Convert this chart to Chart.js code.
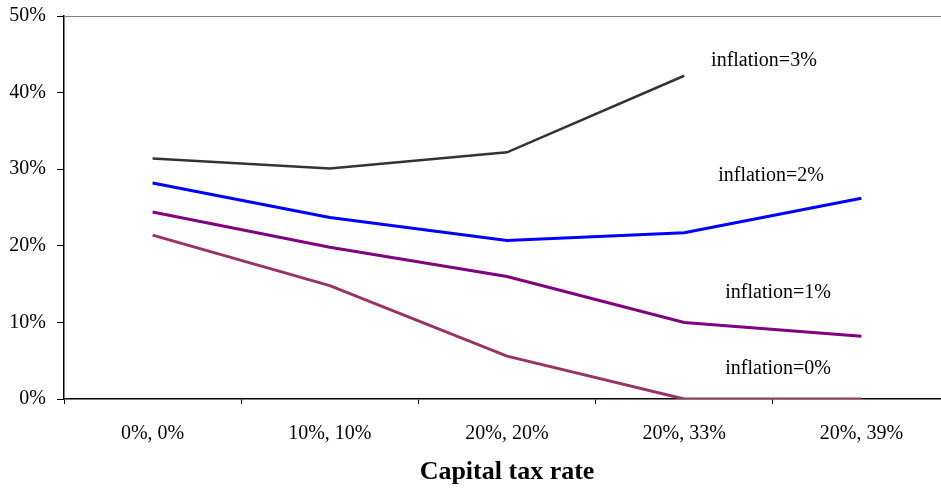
<!DOCTYPE html>
<html>
<head>
<meta charset="utf-8">
<script src="https://cdn.jsdelivr.net/npm/chart.js@4/dist/chart.umd.min.js"></script>
<style>
  html, body { margin: 0; padding: 0; background: #fff; overflow: hidden; }
  #wrap { width: 960px; height: 489px; }
</style>
</head>
<body>
<div id="wrap"><canvas id="c" width="960" height="489"></canvas></div>
<script>
// Capital tax rate combinations (x axis categories)
const categories = ['0%, 0%', '10%, 10%', '20%, 20%', '20%, 33%', '20%, 39%'];

// Series values in percent, one array per inflation level
const inflation3 = [31.4, 30.1, 32.2, 42.2, null];
const inflation2 = [28.2, 23.7, 20.7, 21.7, 26.2];
const inflation1 = [24.4, 19.8, 16.0, 10.0, 8.2];
const inflation0 = [21.4, 14.8, 5.6, 0, 0];

// Y axis range and step
const yTicks = { min: 0, max: 50, step: 10 };

// Series labels placed inside the plot (category position, value)
const seriesNotes = [
  { text: 'inflation=3%', x: 3.45, y: 44.1 },
  { text: 'inflation=2%', x: 3.49, y: 29.2 },
  { text: 'inflation=1%', x: 3.53, y: 13.9 },
  { text: 'inflation=0%', x: 3.53, y: 4.0 }
];

const serif = "'Liberation Serif', 'DejaVu Serif', serif";

const notesPlugin = {
  id: 'notes',
  afterDatasetsDraw(chart) {
    const { ctx, scales, chartArea } = chart;
    ctx.save();
    // gray frame line across the top of the plot area
    ctx.strokeStyle = '#808080';
    ctx.lineWidth = 1;
    ctx.beginPath();
    ctx.moveTo(chartArea.left, chartArea.top + 0.5);
    ctx.lineTo(chart.width, chartArea.top + 0.5);
    ctx.stroke();
    // inline series labels
    ctx.fillStyle = '#000';
    ctx.font = '20px ' + serif;
    ctx.textAlign = 'center';
    ctx.textBaseline = 'middle';
    seriesNotes.forEach(n => {
      ctx.fillText(n.text, scales.x.getPixelForValue(n.x), scales.y.getPixelForValue(n.y));
    });
    ctx.restore();
  }
};

new Chart(document.getElementById('c'), {
  type: 'line',
  data: {
    labels: categories,
    datasets: [
      { label: 'inflation=3%', data: inflation3, borderColor: '#333333', borderWidth: 2.5 },
      { label: 'inflation=2%', data: inflation2, borderColor: '#0000ff', borderWidth: 3 },
      { label: 'inflation=1%', data: inflation1, borderColor: '#800080', borderWidth: 3 },
      { label: 'inflation=0%', data: inflation0, borderColor: '#993366', borderWidth: 3 }
    ].map(d => Object.assign(d, { pointRadius: 0, pointHoverRadius: 0, tension: 0, fill: false, spanGaps: false }))
  },
  options: {
    responsive: false,
    animation: false,
    layout: { padding: { top: 16, right: 10, left: 0, bottom: 0 } },
    plugins: { legend: { display: false }, tooltip: { enabled: false } },
    scales: {
      x: {
        type: 'category',
        offset: true,
        grid: { display: true, drawOnChartArea: false, offset: true, tickLength: 5, color: '#000', tickWidth: 1 },
        border: { display: true, color: '#000', width: 1.5 },
        ticks: { color: '#000', font: { family: serif, size: 20 }, padding: 18, maxRotation: 0 },
        title: { display: true, text: 'Capital tax rate', color: '#000', font: { family: serif, size: 26, weight: 'bold' }, padding: { top: 10, bottom: 1 } },
        afterFit(s) { s.height = 90; s.paddingLeft = 0; s.paddingRight = 0; }
      },
      y: {
        min: yTicks.min,
        max: yTicks.max,
        grid: { display: true, drawOnChartArea: false, tickLength: 7, color: '#000' },
        border: { display: true, color: '#000', width: 1.5 },
        ticks: { stepSize: yTicks.step, color: '#000', font: { family: serif, size: 20 }, padding: 11, callback: v => v + '%' },
        afterFit(s) { s.width = 64; s.paddingTop = 0; s.paddingBottom = 0; }
      }
    }
  },
  plugins: [notesPlugin]
});
</script>
</body>
</html>
